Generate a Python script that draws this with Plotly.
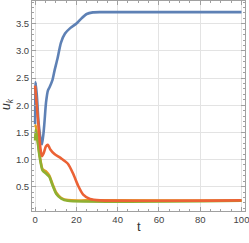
import plotly.graph_objects as go

# Series 1 (blue)
t_blue = [0, 0.3, 1.0, 1.6, 2.5, 3.4, 4.4, 5.3, 6.2, 7.0, 8.4, 9.5, 10.8, 12.5, 14.5, 17, 20.2, 22.5, 25, 28, 32, 100]
u_blue = [1.65, 2.42, 2.1, 1.72, 1.42, 1.28, 1.62, 2.05, 2.27, 2.33, 2.46, 2.65, 2.85, 3.15, 3.32, 3.42, 3.51, 3.6, 3.68, 3.71, 3.715, 3.715]

# Series 2 (orange)
t_orange = [0, 0.3, 1.1, 2.2, 3.6, 5.3, 6.9, 8.5, 10.2, 12.7, 15.9, 25, 100]
u_orange = [1.6, 1.63, 1.4, 1.08, 0.82, 0.78, 0.70, 0.54, 0.39, 0.29, 0.25, 0.245, 0.24]

# Series 3 (green)
t_green = [0, 0.3, 1.1, 2.2, 3.6, 5.3, 6.9, 8.5, 10.2, 12.7, 15.9, 100]
u_green = [1.35, 1.55, 1.37, 1.05, 0.80, 0.74, 0.68, 0.52, 0.37, 0.28, 0.24, 0.24]

# Series 4 (red)
t_red = [0, 0.8, 1.8, 2.6, 3.3, 4.2, 5.2, 6.2, 7.3, 9.4, 12.6, 15.9, 18.4, 20.8, 23.3, 26.6, 31.5, 100]
u_red = [2.36, 2.0, 1.55, 1.2, 1.06, 1.12, 1.24, 1.27, 1.19, 1.1, 1.02, 0.92, 0.74, 0.52, 0.35, 0.27, 0.245, 0.245]

x_ticks = [0, 20, 40, 60, 80, 100]
y_ticks = [0.5, 1.0, 1.5, 2.0, 2.5, 3.0, 3.5]
y_tick_text = ["0.5", "1.0", "1.5", "2.0", "2.5", "3.0", "3.5"]

series = [
    (t_blue, u_blue, "#5E81B5"),
    (t_orange, u_orange, "#E19C24"),
    (t_green, u_green, "#8FB032"),
    (t_red, u_red, "#EB6235"),
]

fig = go.Figure()
for tx, uy, c in series:
    fig.add_trace(go.Scatter(x=tx, y=uy, mode="lines",
                             line=dict(color=c, width=2.6, shape="spline", smoothing=0.6),
                             showlegend=False))

FONT = "Liberation Sans"
axis_common = dict(
    showline=True, linecolor="#a0a0a0", linewidth=1, mirror="ticks",
    ticks="inside", ticklen=4, tickcolor="#a0a0a0",
    showgrid=True, gridcolor="#e3e3e3", gridwidth=1,
    zeroline=False, ticklabeloverflow="allow",
    tickfont=dict(family=FONT, size=9.5, color="#444444"),
)

fig.update_xaxes(range=[-1.5, 101.7], tickvals=x_ticks,
                 minor=dict(ticks="inside", ticklen=2, dtick=5, tick0=0, tickcolor="#a0a0a0", showgrid=False),
                 **axis_common)
fig.update_yaxes(range=[0.05, 3.92], tickvals=y_ticks, ticktext=y_tick_text,
                 minor=dict(ticks="inside", ticklen=2, dtick=0.1, tick0=0, tickcolor="#a0a0a0", showgrid=False),
                 **axis_common)

fig.add_annotation(text="t", xref="paper", yref="paper", x=0.5, y=0,
                   xanchor="center", yanchor="middle", yshift=-15, showarrow=False,
                   font=dict(family=FONT, size=13, color="#333333"))
fig.add_annotation(text="<i>u</i><sub><i>k</i></sub>", xref="paper", yref="paper", x=0, y=0.5,
                   xanchor="center", yanchor="middle", xshift=-25, yshift=2, textangle=-90,
                   showarrow=False, font=dict(family=FONT, size=12, color="#333333"))

fig.update_layout(width=249, height=243,
                  margin=dict(l=32, r=4, t=1, b=32),
                  paper_bgcolor="white", plot_bgcolor="white")

fig.write_html("out.html", config={"displayModeBar": False},
               post_script="document.body.style.margin='0';")
